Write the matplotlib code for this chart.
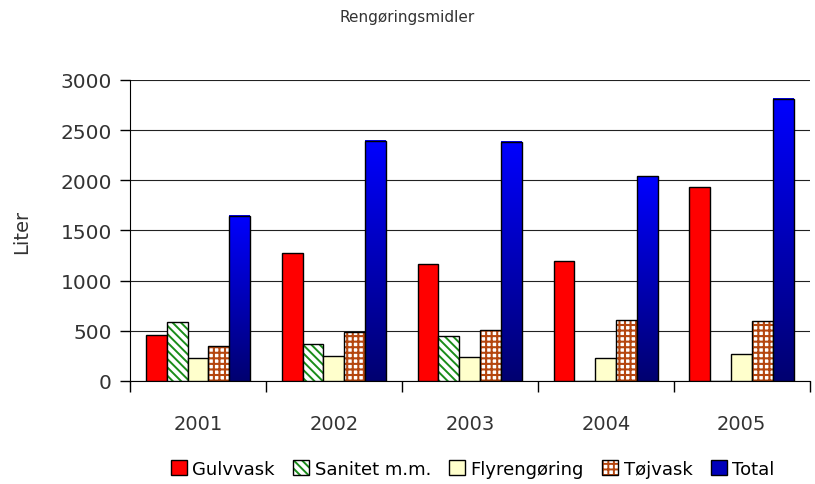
import matplotlib
matplotlib.use("Agg")
import matplotlib.pyplot as plt
import numpy as np
from matplotlib.colors import LinearSegmentedColormap, to_rgba
from matplotlib.patches import Rectangle

years = ["2001", "2002", "2003", "2004", "2005"]
gulvvask = [461, 1276, 1166, 1199, 1931]
sanitet = [585, 369, 449, 0, 0]
flyrengoring = [232, 246, 242, 226, 266]
tojvask = [346, 485, 505, 608, 598]
total = [1648, 2393, 2386, 2041, 2811]

series_names = ["Gulvvask", "Sanitet m.m.", "Flyrengøring", "Tøjvask", "Total"]
y_ticks = [0, 500, 1000, 1500, 2000, 2500, 3000]

TEXT = "#333333"
BROWN = "#b5460f"
GREEN = "#1a8c1a"
STRIPES = "\\\\\\\\"
DOTS = "+++"

plt.rcParams["font.family"] = ["DejaVu Sans"]
plt.rcParams["hatch.linewidth"] = 1.4

fig = plt.figure(figsize=(8.15, 4.85), dpi=100)
ax = fig.add_axes([0.1595, 0.2124, 0.834, 0.6206])

n = len(years)
bar_w = 1 / 6.5
x = np.arange(n)
offsets = (np.arange(5) - 2) * bar_w


def set_hatch_style(patch, color, lw):
    patch._hatch_color = to_rgba(color)
    if hasattr(patch, "set_hatch_linewidth"):
        patch.set_hatch_linewidth(lw)


ax.bar(x + offsets[0], gulvvask, bar_w, color="#ff0000", edgecolor="black", linewidth=1, zorder=3)
san = ax.bar(x + offsets[1], sanitet, bar_w, color="white", edgecolor="black", linewidth=1,
             hatch=STRIPES, zorder=3)
ax.bar(x + offsets[2], flyrengoring, bar_w, color="#ffffcc", edgecolor="black", linewidth=1, zorder=3)
toj = ax.bar(x + offsets[3], tojvask, bar_w, color="white", edgecolor="black", linewidth=1,
             hatch=DOTS, zorder=3)
for b in san:
    set_hatch_style(b, GREEN, 1.4)
for b in toj:
    set_hatch_style(b, BROWN, 1.5)

# Total bars with a vertical gradient
grad = LinearSegmentedColormap.from_list("blu", ["#000070", "#0000ff"])
gradient = np.linspace(0, 1, 256).reshape(-1, 1)
for xi, val in zip(x + offsets[4], total):
    ax.imshow(gradient, cmap=grad, origin="lower", aspect="auto",
              extent=(xi - bar_w / 2, xi + bar_w / 2, 0, val), zorder=3)
    ax.add_patch(Rectangle((xi - bar_w / 2, 0), bar_w, val, fill=False,
                           edgecolor="black", linewidth=1, zorder=4))

ax.set_xlim(-0.5, n - 0.5)
ax.set_ylim(0, 3000)
ax.set_yticks(y_ticks)
ax.set_yticklabels([str(v) for v in y_ticks], fontsize=14.5, color=TEXT)
ax.set_xticks(np.arange(n + 1) - 0.5)
ax.set_xticklabels([])
ax.set_xticks(x, minor=True)
ax.set_xticklabels(years, minor=True, fontsize=14, color=TEXT)
ax.tick_params(axis="x", which="major", direction="out", length=8, width=1)
ax.tick_params(axis="x", which="minor", length=0, pad=24)
ax.tick_params(axis="y", direction="out", length=7, width=1, pad=6)
ax.grid(axis="y", color="#222222", linewidth=0.8, zorder=0)
for side in ["top", "right"]:
    ax.spines[side].set_visible(False)

ax.set_ylabel("Liter", fontsize=14, color=TEXT, labelpad=21)
fig.text(0.5, 0.963, "Rengøringsmidler", ha="center", va="center", fontsize=11, color=TEXT)

handles = [
    Rectangle((0, 0), 1, 1, facecolor="#ff0000", edgecolor="black"),
    Rectangle((0, 0), 1, 1, facecolor="white", edgecolor="black", hatch=STRIPES),
    Rectangle((0, 0), 1, 1, facecolor="#ffffcc", edgecolor="black"),
    Rectangle((0, 0), 1, 1, facecolor="white", edgecolor="black", hatch=DOTS),
    Rectangle((0, 0), 1, 1, facecolor="#0000bb", edgecolor="black"),
]
set_hatch_style(handles[1], GREEN, 1.4)
set_hatch_style(handles[3], BROWN, 1.5)
leg = fig.legend(handles, series_names, loc="center", bbox_to_anchor=(0.58, 0.031), ncol=5,
                 frameon=False, fontsize=13, handlelength=0.9, handleheight=0.9,
                 handletextpad=0.3, columnspacing=1.0, borderaxespad=0)

fig.savefig("out.png", dpi=100)
